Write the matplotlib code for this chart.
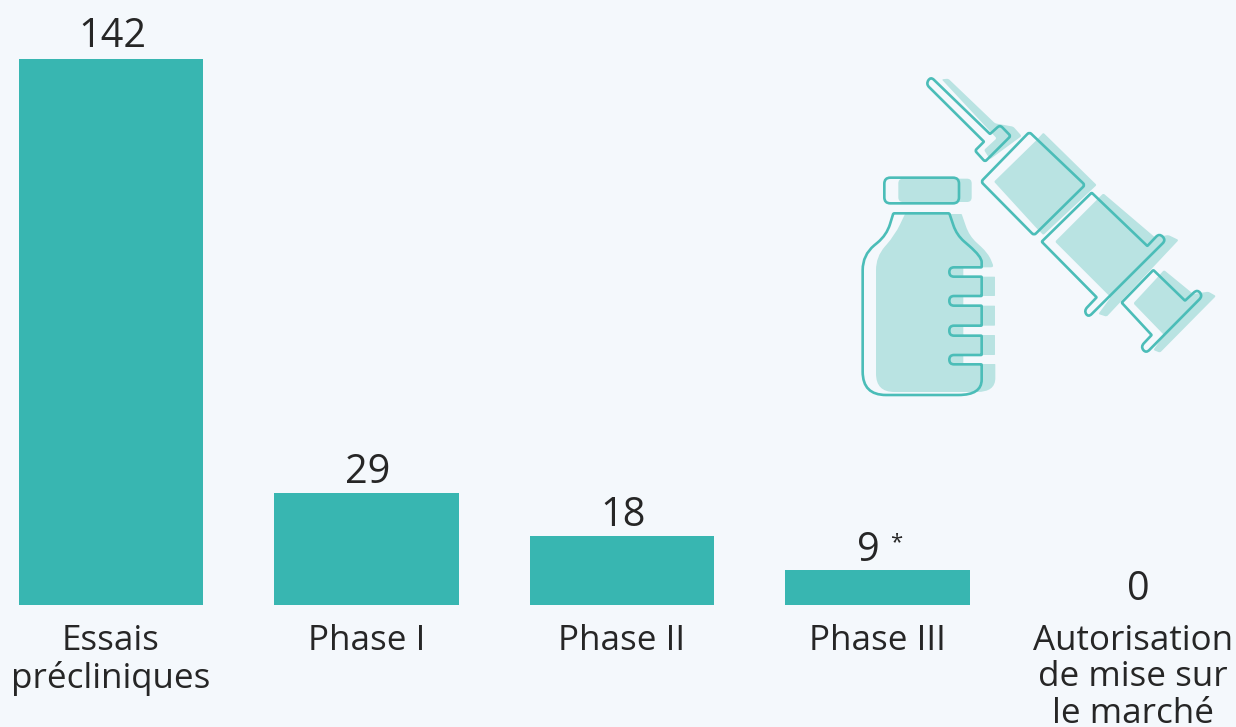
import matplotlib
matplotlib.use("Agg")
import matplotlib.pyplot as plt
from matplotlib.patches import PathPatch
from matplotlib.path import Path

categories = ["Essais\nprécliniques", "Phase I", "Phase II", "Phase III",
              "Autorisation\nde mise sur\nle marché"]
values = [142, 29, 18, 9, 0]
value_labels = ["142", "29", "18", "9", "0"]

BG = "#f4f8fc"
BAR = "#38b6b1"
ICON_LINE = "#4bbdb8"
ICON_FILL = "#b9e3e2"
TEXT = "#262626"
W, H = 1236, 727

plt.rcParams['font.family'] = ['Open Sans', 'DejaVu Sans']


# icon outlines are measured on a 3x crop that starts at (840, 60)
# a point can carry its own corner radius as a third item
def rounded(points, r=6):
    verts = []
    codes = []
    n = len(points)
    for i in range(n):
        p0, p1, p2 = points[i - 1], points[i], points[(i + 1) % n]
        pr = p1[2] if len(p1) > 2 else r
        a = corner_point(p1, p0, pr)
        b = corner_point(p1, p2, pr)
        verts += [a, p1[:2], b]
        codes += [Path.LINETO if i else Path.MOVETO, Path.CURVE3, Path.CURVE3]
    verts.append(verts[0])
    codes.append(Path.CLOSEPOLY)
    return Path([(840 + x / 3, 60 + y / 3) for x, y in verts], codes)


def corner_point(p, q, r):
    dx, dy = q[0] - p[0], q[1] - p[1]
    d = (dx ** 2 + dy ** 2) ** 0.5
    r = min(r, d / 2)
    return (p[0] + dx * r / d, p[1] + dy * r / d)


def add_shape(ax, points, r=6, fill=False):
    if fill:
        ax.add_patch(PathPatch(rounded(points, r), fc=ICON_FILL, ec="none", zorder=1))
    else:
        ax.add_patch(PathPatch(rounded(points, r), fc="none", ec=ICON_LINE, lw=1.9,
                               joinstyle="round", zorder=2))


def draw_icon(ax):
    # shaded areas
    add_shape(ax, [(175, 356), (395, 356), (395, 426), (175, 426)], 14, True)
    add_shape(ax, [(195, 462), (365, 462), (388, 528, 30), (445, 580, 30), (462, 622, 10), (370, 622),
                   (370, 650), (465, 650), (465, 708), (370, 708), (370, 737), (465, 737),
                   (465, 797), (370, 797), (370, 825), (465, 825), (465, 885), (370, 885),
                   (370, 912), (466, 912), (466, 996, 55), (108, 996, 55),
                   (108, 590, 40), (165, 525, 40)], 2, True)
    add_shape(ax, [(305, 58), (325, 56), (465, 190), (520, 200), (545, 228), (450, 298),
                   (432, 270), (470, 235)], 5, True)
    add_shape(ax, [(462, 365), (590, 240), (610, 218), (770, 375), (610, 525), (590, 505)], 4, True)
    add_shape(ax, [(645, 545), (770, 420), (790, 400), (945, 532), (985, 525), (1016, 540),
                   (800, 770), (775, 762), (812, 712)], 5, True)
    add_shape(ax, [(880, 730), (945, 660), (972, 630), (1060, 702), (1105, 695), (1128, 708),
                   (960, 878), (940, 870), (972, 825)], 5, True)

    # bottle outline
    add_shape(ax, [(133, 353), (357, 353), (357, 430), (133, 430)], 18)
    add_shape(ax, [(160, 460, 3), (328, 460, 3), (350, 525, 30), (425, 590, 50), (425, 622, 2),
                   (328, 622, 14), (328, 650, 14), (425, 650, 2), (425, 708, 2), (328, 708, 14),
                   (328, 737, 14), (425, 737, 2), (425, 797, 2), (328, 797, 14), (328, 827, 14),
                   (425, 827, 2), (425, 885, 2), (328, 885, 14), (328, 913, 14), (425, 913, 2),
                   (425, 1005, 70), (68, 1005, 70), (68, 585, 45), (140, 525, 35)], 4)

    # syringe outline
    add_shape(ax, [(272, 50, 13), (450, 222, 2), (480, 195, 10), (512, 228, 6), (435, 305, 6),
                   (405, 272, 6), (432, 245, 2), (258, 72, 13)], 9)
    add_shape(ax, [(568, 216), (735, 375), (582, 526), (423, 365)], 8)
    add_shape(ax, [(755, 398, 3), (922, 558, 2), (958, 520, 14), (978, 540, 14), (745, 772, 14),
                   (732, 752, 14), (770, 712, 2), (605, 545, 3)], 6)
    add_shape(ax, [(940, 630, 3), (1035, 722, 2), (1072, 688, 14), (1088, 708, 14), (918, 880, 14),
                   (902, 860, 14), (935, 825, 2), (845, 728, 3)], 6)


def main():
    fig = plt.figure(figsize=(W / 100, H / 100), dpi=100, facecolor=BG)

    # axes span the bars: first bar centre at 111 px, spacing 255.5 px, baseline 605 px
    ax = fig.add_axes([0, (H - 605) / H, 1, 605 / H], facecolor="none")
    ax.bar(range(len(values)), values, width=0.722, color=BAR)
    ax.set_xlim(-111 / 255.5, (W - 111) / 255.5)
    ax.set_ylim(0, 605 / 3.845)
    ax.set_yticks([])
    ax.set_xticks(range(len(categories)))
    ax.set_xticklabels(categories, fontsize=25.2, color=TEXT, linespacing=1.1)
    ax.tick_params(axis="x", length=0, pad=13.6)
    for side in ax.spines.values():
        side.set_visible(False)

    # label nudges in points, the 9 and the 0 sit off the bar centre in the original
    dx = [0.7, 0.7, 0.7, -6.8, 3.6]
    dy = [8.6, 7.2, 7.2, 6.8, 3.6]
    for i, v in enumerate(values):
        ax.annotate(value_labels[i], (i, v), xytext=(dx[i], dy[i]), textcoords="offset points",
                    ha="center", va="baseline", fontsize=28.5, color=TEXT)
    ax.annotate("*", (3, values[3]), xytext=(13.5, 16), textcoords="offset points",
                ha="center", va="baseline", fontsize=16, color=TEXT)

    icon = fig.add_axes([0, 0, 1, 1], facecolor="none")
    icon.set_xlim(0, W)
    icon.set_ylim(H, 0)
    icon.axis("off")
    draw_icon(icon)

    fig.savefig("out.png", dpi=100, facecolor=BG)


if __name__ == "__main__":
    main()
